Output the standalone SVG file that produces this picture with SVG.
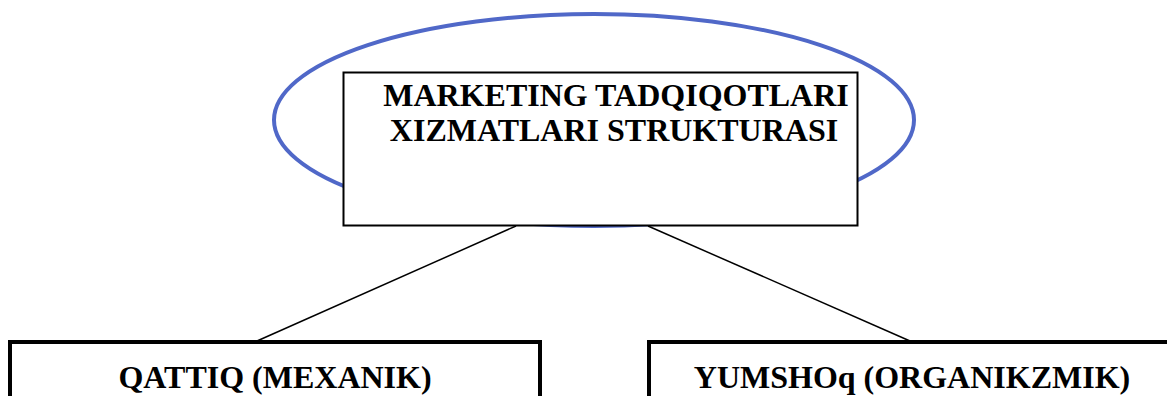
<svg xmlns="http://www.w3.org/2000/svg" width="1167" height="396" viewBox="0 0 1167 396">
<style>
.t{font-family:"Liberation Serif","Times New Roman",serif;font-weight:bold;font-size:32px;fill:#000;text-anchor:middle}
.box{fill:#fff;stroke:#000}
.conn{stroke:#000;stroke-width:1.5;fill:none}
</style>
<rect width="1167" height="396" fill="#fff"/>
<g id="root">
<ellipse cx="594" cy="120" rx="320" ry="106" fill="none" stroke="#5068C8" stroke-width="4"/>
<rect class="box" x="343.5" y="72.5" width="514" height="153" stroke-width="2"/>
<text class="t" x="616" y="106">MARKETING TADQIQOTLARI</text>
<text class="t" x="614" y="141">XIZMATLARI STRUKTURASI</text>
</g>
<g id="connectors">
<line class="conn" x1="516" y1="226" x2="257" y2="341"/>
<line class="conn" x1="648" y1="226" x2="910" y2="341"/>
</g>
<g id="left">
<rect class="box" x="10" y="342" width="530" height="80" stroke-width="4"/>
<text class="t" x="275" y="388">QATTIQ (MEXANIK)</text>
</g>
<g id="right">
<rect class="box" x="649" y="342" width="540" height="80" stroke-width="4"/>
<text class="t" x="912" y="388">YUMSHOq (ORGANIKZMIK)</text>
</g>
</svg>
